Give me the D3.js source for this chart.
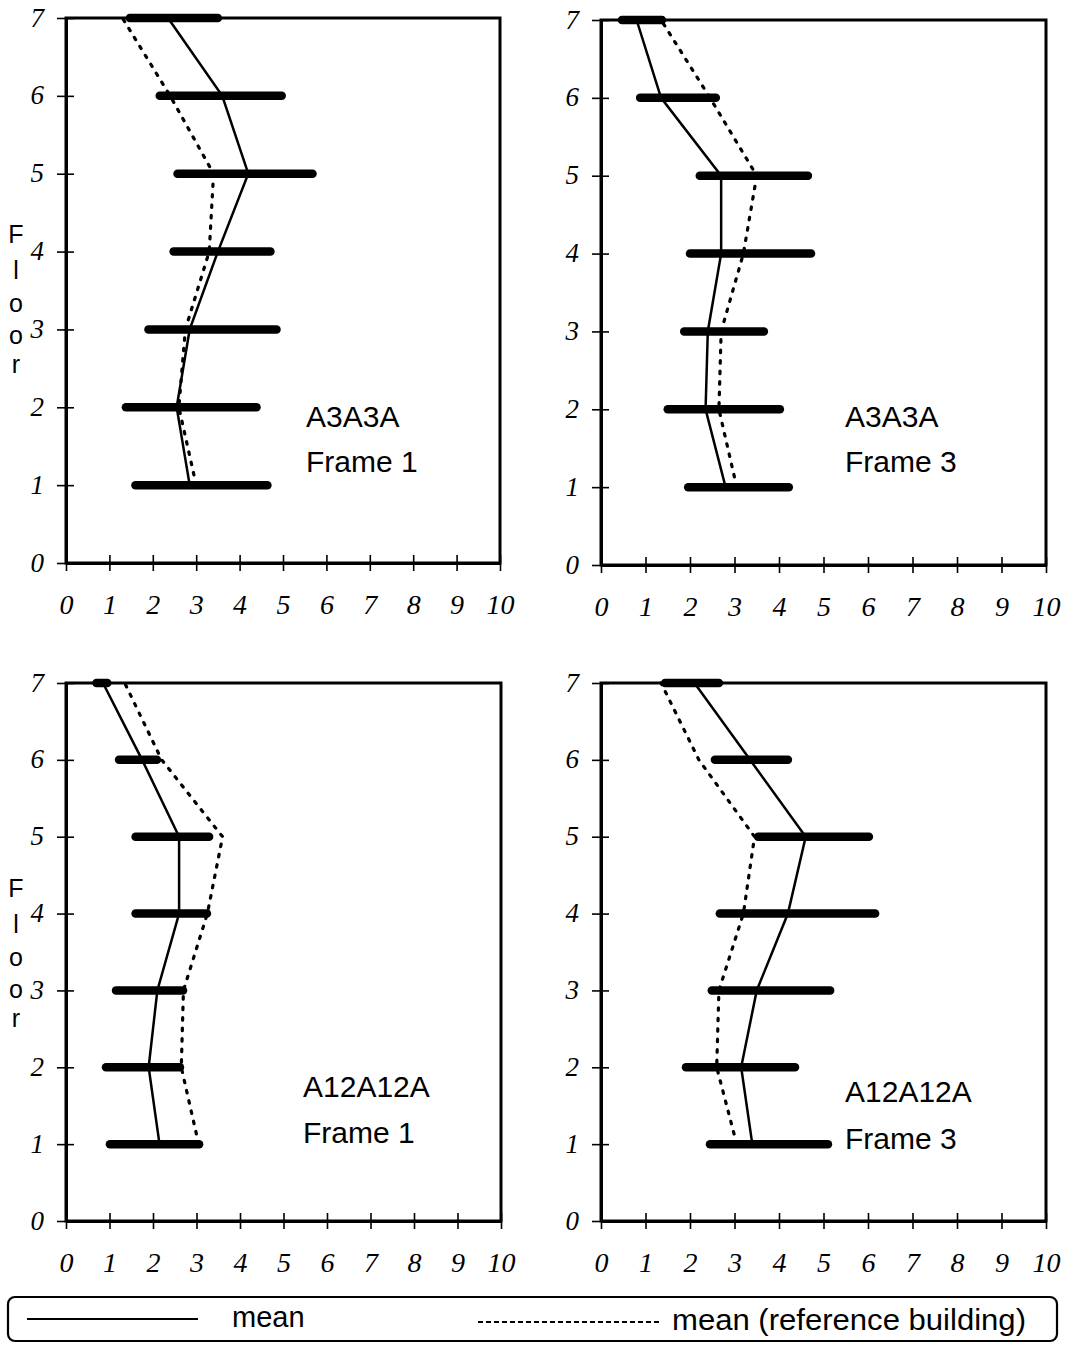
<!DOCTYPE html>
<html>
<head>
<meta charset="utf-8">
<script src="https://cdn.jsdelivr.net/npm/d3@7"></script>
<style>
  body { margin: 0; background: #fff; }
  svg { display: block; }
</style>
</head>
<body>
<svg id="chart" width="1065" height="1345"></svg>
<script>
// Floors 1..7 (bottom to top)
const floors = [1, 2, 3, 4, 5, 6, 7];
const xTicks = [0, 1, 2, 3, 4, 5, 6, 7, 8, 9, 10];
const yTicks = [0, 1, 2, 3, 4, 5, 6, 7];

// A3A3A, Frame 1
const a3f1Low  = [1.6, 1.38, 1.9, 2.48, 2.57, 2.16, 1.47];
const a3f1High = [4.64, 4.39, 4.85, 4.71, 5.68, 4.97, 3.5];
const a3f1Mean = [2.85, 2.55, 2.85, 3.5, 4.2, 3.6, 2.35];
const a3f1Ref  = [3.0, 2.6, 2.75, 3.3, 3.4, 2.4, 1.3];

// A3A3A, Frame 3
const a3f3Low  = [1.96, 1.5, 1.87, 2.0, 2.22, 0.88, 0.47];
const a3f3High = [4.22, 4.02, 3.66, 4.72, 4.65, 2.58, 1.37];
const a3f3Mean = [2.8, 2.35, 2.4, 2.7, 2.7, 1.35, 0.8];
const a3f3Ref  = [3.05, 2.65, 2.7, 3.2, 3.5, 2.45, 1.35];

// A12A12A, Frame 1
const a12f1Low  = [1.01, 0.92, 1.15, 1.6, 1.6, 1.22, 0.7];
const a12f1High = [3.06, 2.62, 2.69, 3.24, 3.29, 2.09, 0.95];
const a12f1Mean = [2.15, 1.9, 2.1, 2.6, 2.6, 1.75, 0.85];
const a12f1Ref  = [3.05, 2.65, 2.7, 3.25, 3.6, 2.2, 1.35];

// A12A12A, Frame 3
const a12f3Low  = [2.45, 1.91, 2.49, 2.67, 3.53, 2.56, 1.44];
const a12f3High = [5.1, 4.36, 5.15, 6.16, 6.02, 4.2, 2.65];
const a12f3Mean = [3.4, 3.15, 3.5, 4.2, 4.6, 3.35, 2.1];
const a12f3Ref  = [3.05, 2.6, 2.65, 3.2, 3.45, 2.2, 1.35];

const panelNames = ["A3A3A", "A3A3A", "A12A12A", "A12A12A"];
const frameNames = ["Frame 1", "Frame 3", "Frame 1", "Frame 3"];
const legendLabels = ["mean", "mean (reference building)"];
const floorLetters = ["F", "l", "o", "o", "r"];

const svg = d3.select("#chart");

const panels = [
  { box: [66, 18, 500, 563], low: a3f1Low, high: a3f1High, mean: a3f1Mean, ref: a3f1Ref,
    name: panelNames[0], frame: frameNames[0], tx: 306, ty: 427, ty2: 472, floorLabel: [16, 243] },
  { box: [601, 20, 1046, 565], low: a3f3Low, high: a3f3High, mean: a3f3Mean, ref: a3f3Ref,
    name: panelNames[1], frame: frameNames[1], tx: 845, ty: 427, ty2: 472, floorLabel: null },
  { box: [66, 683, 501, 1221], low: a12f1Low, high: a12f1High, mean: a12f1Mean, ref: a12f1Ref,
    name: panelNames[2], frame: frameNames[2], tx: 303, ty: 1097, ty2: 1143, floorLabel: [16, 897] },
  { box: [601, 683, 1046, 1221], low: a12f3Low, high: a12f3High, mean: a12f3Mean, ref: a12f3Ref,
    name: panelNames[3], frame: frameNames[3], tx: 845, ty: 1102, ty2: 1149, floorLabel: null }
];

const tickFont = "'Liberation Serif', 'DejaVu Serif', serif";
const sansFont = "'Liberation Sans', Arial, sans-serif";

panels.forEach(p => {
  const [x0, y0, x1, y1] = p.box;
  const x = d3.scaleLinear().domain([0, 10]).range([x0, x1]);
  const y = d3.scaleLinear().domain([0, 7]).range([y1, y0]);
  const g = svg.append("g");

  // range bars per floor
  g.selectAll("line.bar")
    .data(floors.map((f, i) => ({ f, lo: p.low[i], hi: p.high[i] })))
    .join("line")
    .attr("class", "bar")
    .attr("x1", d => x(d.lo)).attr("x2", d => x(d.hi))
    .attr("y1", d => y(d.f)).attr("y2", d => y(d.f))
    .attr("stroke", "#000").attr("stroke-width", 8.5)
    .attr("stroke-linecap", "round");

  // plot frame
  g.append("rect")
    .attr("x", x0).attr("y", y0)
    .attr("width", x1 - x0).attr("height", y1 - y0)
    .attr("fill", "none").attr("stroke", "#000").attr("stroke-width", 3);

  // x axis
  const xa = g.append("g")
    .attr("transform", `translate(0,${y1})`)
    .call(d3.axisBottom(x).tickValues(xTicks).tickSize(5).tickSizeOuter(0).tickFormat(d3.format("d")));
  xa.select(".domain").attr("stroke-width", 3);
  xa.selectAll(".tick line").attr("y1", -8).attr("y2", 8).attr("stroke-width", 1.6);
  xa.selectAll(".tick text")
    .attr("y", 41).attr("dy", "0.35em")
    .style("font-family", tickFont).style("font-style", "italic")
    .style("font-size", "28px").attr("fill", "#000");

  // y axis
  const ya = g.append("g")
    .attr("transform", `translate(${x0},0)`)
    .call(d3.axisLeft(y).tickValues(yTicks).tickSize(6).tickSizeOuter(0).tickFormat(d3.format("d")));
  ya.select(".domain").attr("stroke-width", 3);
  ya.selectAll(".tick line").attr("x1", -9).attr("x2", 8).attr("stroke-width", 1.6);
  ya.selectAll(".tick text")
    .attr("x", -22).attr("dy", "0.3em")
    .style("font-family", tickFont).style("font-style", "italic")
    .style("font-size", "27px").attr("fill", "#000");

  // reference building mean (dotted)
  g.append("path")
    .datum(floors.map((f, i) => [p.ref[i], f]))
    .attr("d", d3.line().x(d => x(d[0])).y(d => y(d[1])))
    .attr("fill", "none").attr("stroke", "#000").attr("stroke-width", 3.2)
    .attr("stroke-dasharray", "2.5,8").attr("stroke-linecap", "round");

  // mean (solid)
  g.append("path")
    .datum(floors.map((f, i) => [p.mean[i], f]))
    .attr("d", d3.line().x(d => x(d[0])).y(d => y(d[1])))
    .attr("fill", "none").attr("stroke", "#000").attr("stroke-width", 2.5);

  // panel labels
  g.append("text")
    .attr("x", p.tx).attr("y", p.ty)
    .style("font-family", sansFont).style("font-size", "30px")
    .text(p.name);
  g.append("text")
    .attr("x", p.tx).attr("y", p.ty2)
    .style("font-family", sansFont).style("font-size", "30px")
    .text(p.frame);

  // stacked axis title
  if (p.floorLabel) {
    const offs = [0, 36, 69, 101, 130];
    g.selectAll("text.floor")
      .data(floorLetters)
      .join("text")
      .attr("class", "floor")
      .attr("x", p.floorLabel[0]).attr("y", (d, i) => p.floorLabel[1] + offs[i])
      .attr("text-anchor", "middle")
      .style("font-family", sansFont).style("font-size", "25px")
      .text(d => d);
  }
});

// legend
const lg = svg.append("g");
lg.append("rect")
  .attr("x", 8).attr("y", 1297).attr("width", 1049).attr("height", 44)
  .attr("rx", 7).attr("fill", "none").attr("stroke", "#000").attr("stroke-width", 2.2);
lg.append("line")
  .attr("x1", 27).attr("x2", 198).attr("y1", 1319).attr("y2", 1319)
  .attr("stroke", "#000").attr("stroke-width", 2);
lg.append("text")
  .attr("x", 232).attr("y", 1327)
  .style("font-family", sansFont).style("font-size", "29px")
  .text(legendLabels[0]);
lg.append("line")
  .attr("x1", 478).attr("x2", 660).attr("y1", 1322).attr("y2", 1322)
  .attr("stroke", "#000").attr("stroke-width", 1.8).attr("stroke-dasharray", "5,3");
lg.append("text")
  .attr("x", 672).attr("y", 1330)
  .attr("textLength", 354).attr("lengthAdjust", "spacingAndGlyphs")
  .style("font-family", sansFont).style("font-size", "29px")
  .text(legendLabels[1]);
</script>
</body>
</html>
